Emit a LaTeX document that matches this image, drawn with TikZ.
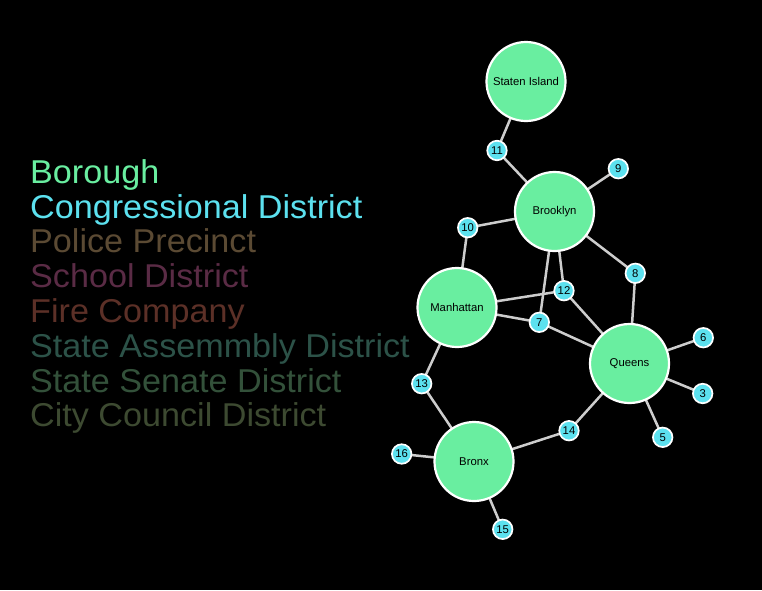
\documentclass[tikz,border=0pt]{standalone}
\usepackage{fontspec}
\setmainfont{Liberation Sans}
\newfontfamily\legendfont[FakeStretch=1.035]{Liberation Sans}
\definecolor{boro}{RGB}{105,238,160}
\definecolor{cong}{RGB}{92,225,239}
\definecolor{police}{RGB}{91,74,51}
\definecolor{school}{RGB}{90,43,69}
\definecolor{fire}{RGB}{92,48,39}
\definecolor{assem}{RGB}{44,82,72}
\definecolor{senate}{RGB}{51,81,58}
\definecolor{council}{RGB}{61,74,49}
\definecolor{edgec}{RGB}{205,205,205}
\tikzset{
  x=1pt, y=-1pt,
  big/.style={circle, fill=boro, draw=white, line width=2.2pt, minimum size=79pt, inner sep=0pt, font=\fontsize{11.3}{13}\selectfont, text=black},
  small/.style={circle, fill=cong, draw=white, line width=1.7pt, minimum size=19.5pt, inner sep=0pt, font=\fontsize{11.3}{13}\selectfont, text=black},
  link/.style={draw=edgec, line width=2.5pt},
  legend/.style={anchor=base west, inner sep=0pt, font=\legendfont\fontsize{33}{34}\selectfont}
}
\begin{document}
\begin{tikzpicture}
\fill[black] (0,0) rectangle (762,590);
\useasboundingbox (0,0) rectangle (762,590);
% legend
\node[legend, text=boro] (l1) at (30,183.3) {Borough};
\node[legend, text=cong] (l2) at (30,218.1) {Congressional District};
\node[legend, text=police] (l3) at (30,252.9) {Police Precinct};
\node[legend, text=school] (l4) at (30,287.7) {School District};
\node[legend, text=fire] (l5) at (30,322.5) {Fire Company};
\node[legend, text=assem] (l6) at (30,357.3) {State Assemmbly District};
\node[legend, text=senate] (l7) at (30,392.1) {State Senate District};
\node[legend, text=council] (l8) at (30,426.9) {City Council District};
% coordinates
\coordinate (pSI) at (526,81.5);
\coordinate (pBK) at (554.5,211.5);
\coordinate (pMN) at (457,307.5);
\coordinate (pQN) at (629.5,363.5);
\coordinate (pBX) at (474,461.5);
\coordinate (p11) at (497,150.5);
\coordinate (p9) at (618.3,168.7);
\coordinate (p10) at (467.7,227.7);
\coordinate (p8) at (635.3,273.3);
\coordinate (p12) at (564,290.7);
\coordinate (p7) at (539.3,322.3);
\coordinate (p6) at (703.3,337.7);
\coordinate (p3) at (702.7,393.5);
\coordinate (p5) at (662.7,437.3);
\coordinate (p14) at (569,430.7);
\coordinate (p13) at (421.7,383.7);
\coordinate (p16) at (401.7,454);
\coordinate (p15) at (502.7,529.3);
% edges
\draw[link] (pSI) -- (p11) -- (pBK);
\draw[link] (pBK) -- (p9);
\draw[link] (pBK) -- (p10) -- (pMN);
\draw[link] (pBK) -- (p8) -- (pQN);
\draw[link] (pBK) -- (p7);
\draw[link] (pMN) -- (p7) -- (pQN);
\draw[link] (pBK) -- (p12);
\draw[link] (pMN) -- (p12) -- (pQN);
\draw[link] (pQN) -- (p6);
\draw[link] (pQN) -- (p3);
\draw[link] (pQN) -- (p5);
\draw[link] (pQN) -- (p14) -- (pBX);
\draw[link] (pMN) -- (p13) -- (pBX);
\draw[link] (pBX) -- (p16);
\draw[link] (pBX) -- (p15);
% nodes
\node[big] (SI) at (pSI) {Staten Island};
\node[big] (BK) at (pBK) {Brooklyn};
\node[big] (MN) at (pMN) {Manhattan};
\node[big] (QN) at (pQN) {Queens};
\node[big] (BX) at (pBX) {Bronx};
\node[small] (n11) at (p11) {11};
\node[small] (n9) at (p9) {9};
\node[small] (n10) at (p10) {10};
\node[small] (n8) at (p8) {8};
\node[small] (n12) at (p12) {12};
\node[small] (n7) at (p7) {7};
\node[small] (n6) at (p6) {6};
\node[small] (n3) at (p3) {3};
\node[small] (n5) at (p5) {5};
\node[small] (n14) at (p14) {14};
\node[small] (n13) at (p13) {13};
\node[small] (n16) at (p16) {16};
\node[small] (n15) at (p15) {15};
\end{tikzpicture}
\end{document}
